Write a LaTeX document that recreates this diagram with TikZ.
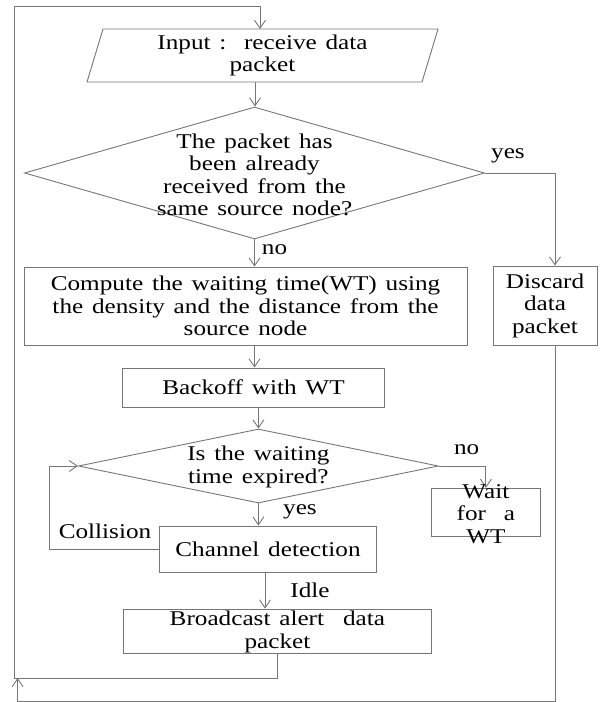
\documentclass[tikz,border=0pt]{standalone}
\usepackage{fontspec}
\setmainfont{Liberation Serif}[FakeStretch=1.2,WordSpace=1.4]
\usetikzlibrary{arrows.meta,shapes.geometric}
\definecolor{lc}{RGB}{118,118,118}
\begin{document}
\begin{tikzpicture}[x=1pt,y=-1pt,
  ln/.style={draw=lc,line width=0.9pt},
  arr/.style={ln,-{Straight Barb[length=8pt,width=11pt]}},
  box/.style={ln,rectangle,inner sep=0pt},
  dia/.style={ln,diamond,inner sep=0pt},
  txt/.style={align=center,inner sep=0pt,font=\fontsize{21}{22.5}\selectfont,text=black},
]
\useasboundingbox (0,0) rectangle (616,702);

% shapes
\draw[ln] (103,29) -- (438,29) -- (422,82) -- (87,82) -- cycle;
\coordinate (inT) at (260,29);
\coordinate (inB) at (255,82);
\node[dia,minimum width=460pt,minimum height=132pt] (d1) at (254.5,173) {};
\node[box,minimum width=443pt,minimum height=78pt] (cmp) at (245.5,306) {};
\node[box,minimum width=104pt,minimum height=79pt] (dis) at (545,305.5) {};
\node[box,minimum width=261.6pt,minimum height=39pt] (bk) at (253.5,387.5) {};
\node[dia,minimum width=360pt,minimum height=74pt] (d2) at (258.4,466) {};
\node[box,minimum width=108.3pt,minimum height=48.4pt] (wait) at (485.9,512.5) {};
\node[box,minimum width=217pt,minimum height=46pt] (ch) at (268,549) {};
\node[box,minimum width=308pt,minimum height=44.3pt] (bc) at (277.4,631.2) {};

\coordinate (lp) at (14,678);
\coordinate (tl) at (14,6);
\coordinate (bl) at (17.6,701.7);
\coordinate (blt) at (17.6,678);
\coordinate (cl) at (49,549);

% connectors
\draw[arr] (inB) -- (inB |- d1.north);
\draw[arr] (d1.east) -| ([xshift=10pt]dis.north);
\draw[arr] (d1.south) -- (d1.south |- cmp.north);
\draw[arr] (d1.south |- cmp.south) -- (d1.south |- bk.north);
\draw[arr] (d2.north |- bk.south) -- (d2.north);
\draw[arr] (d2.east) -| (wait.north);
\draw[arr] (d2.south) -- (d2.south |- ch.north);
\draw[arr] (ch.west) -- (cl) |- (d2.west);
\draw[arr] ([xshift=-3pt]ch.south) -- ([xshift=-3pt]ch.south |- bc.north);
\draw[arr] (bc.south) |- (lp) -- (tl) -| (inT);
\draw[arr] ([xshift=10pt]dis.south) |- (bl) -- (blt);

% texts
\node[txt] (inText) at (262.5,55.5) {Input :\ \ receive data\\packet};
\node[txt] (d1T) at (254.5,175) {The packet has\\been already\\received from the\\same source node?};
\node[txt] (cmpT) at (245.5,306) {Compute the waiting time(WT) using\\the density and the distance from the\\source node};
\node[txt] (disT) at (545,305.5) {Discard\\data\\packet};
\node[txt] (bkT) at (253.5,387.5) {Backoff with WT};
\node[txt] (d2T) at (258.4,467) {Is the waiting\\time expired?};
\node[txt] (waitT) at (485.9,514) {Wait\\for\hspace{18pt}a\\WT};
\node[txt] (chT) at (268,549) {Channel detection};
\node[txt] (bcT) at (277.4,632) {Broadcast alert\hspace{19pt}data\\packet};

\node[txt] (yes1) at (508,156) {yes};
\node[txt] (no1) at (274.5,250) {no};
\node[txt] (no2) at (466.7,450) {no};
\node[txt] (yes2) at (300,511.7) {yes};
\node[txt] (coll) at (105,531.7) {Collision};
\node[txt] (idle) at (310,590.7) {Idle};
\end{tikzpicture}
\end{document}
